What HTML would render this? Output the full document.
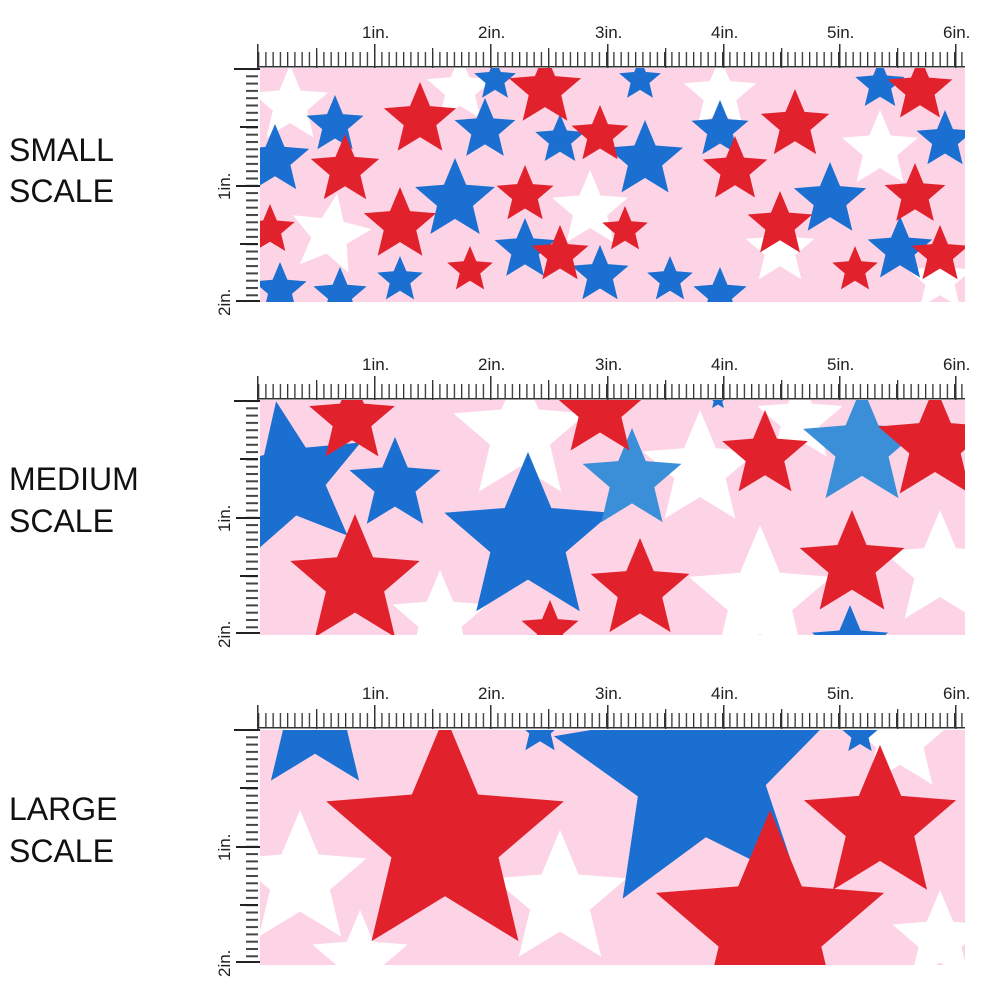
<!DOCTYPE html>
<html><head><meta charset="utf-8"><style>
body{margin:0;background:#fff;width:1000px;height:1000px;overflow:hidden;font-family:"Liberation Sans",sans-serif}
svg{position:absolute;left:0;top:0}
</style></head><body>
<svg width="1000" height="1000" viewBox="0 0 1000 1000" xmlns="http://www.w3.org/2000/svg" font-family="Liberation Sans, sans-serif">
<defs>
<polygon id="s" points="0,-1 .265,-.364 .951,-.309 .428,.139 .588,.809 0,.45 -.588,.809 -.428,.139 -.951,-.309 -.265,-.364"/>
<pattern id="ht" x="258" y="0" width="7.25" height="1000" patternUnits="userSpaceOnUse"><rect x="0" y="0" width="1.3" height="1000" fill="#333"/></pattern>
<pattern id="vt" x="0" y="68" width="1000" height="7.3" patternUnits="userSpaceOnUse"><rect x="0" y="0" width="1000" height="2" fill="#444"/></pattern>
<clipPath id="c1"><rect x="260" y="68" width="705" height="234"/></clipPath>
<clipPath id="c2"><rect x="260" y="400" width="705" height="235"/></clipPath>
<clipPath id="c3"><rect x="260" y="730" width="705" height="235"/></clipPath>
<g id="ruler">
<rect x="258" y="52" width="707" height="15" fill="url(#ht)"/>
<rect x="258" y="66" width="707" height="1.5" fill="#333"/>
<rect x="257" y="44" width="1.5" height="24" fill="#333"/>
<rect x="374" y="44" width="1.5" height="24" fill="#333"/>
<rect x="490" y="44" width="1.5" height="24" fill="#333"/>
<rect x="607" y="44" width="1.5" height="24" fill="#333"/>
<rect x="723" y="44" width="1.5" height="24" fill="#333"/>
<rect x="839" y="44" width="1.5" height="24" fill="#333"/>
<rect x="955" y="44" width="1.5" height="24" fill="#333"/>
<rect x="316" y="48" width="1.3" height="20" fill="#333"/>
<rect x="432" y="48" width="1.3" height="20" fill="#333"/>
<rect x="548" y="48" width="1.3" height="20" fill="#333"/>
<rect x="665" y="48" width="1.3" height="20" fill="#333"/>
<rect x="781" y="48" width="1.3" height="20" fill="#333"/>
<rect x="897" y="48" width="1.3" height="20" fill="#333"/>
<rect x="246" y="68" width="12" height="234" fill="url(#vt)"/>
<rect x="234" y="68" width="26" height="2" fill="#222"/>
<rect x="236" y="185" width="24" height="2" fill="#222"/>
<rect x="236" y="300" width="24" height="2" fill="#222"/>
<rect x="240" y="126" width="18" height="2" fill="#222"/>
<rect x="240" y="243" width="18" height="2" fill="#222"/>
<g font-size="17" fill="#222">
<text x="362" y="38">1in.</text><text x="478" y="38">2in.</text><text x="595" y="38">3in.</text>
<text x="711" y="38">4in.</text><text x="827" y="38">5in.</text><text x="943" y="38">6in.</text>
<text transform="translate(230,200) rotate(-90)">1in.</text>
<text transform="translate(230,316) rotate(-90)">2in.</text>
</g>
</g>
</defs>

<g font-size="32" fill="#111">
<text x="9" y="161">SMALL</text><text x="9" y="202">SCALE</text>
<text x="9" y="490">MEDIUM</text><text x="9" y="532">SCALE</text>
<text x="9" y="820">LARGE</text><text x="9" y="862">SCALE</text>
</g>

<use href="#ruler"/>
<use href="#ruler" y="332"/>
<use href="#ruler" y="661"/>

<g clip-path="url(#c1)">
<rect x="260" y="68" width="705" height="234" fill="#fcd4e6"/>
<g fill="#fff">
<use href="#s" transform="translate(290,105) scale(40)"/><use href="#s" transform="translate(330,235) scale(42) rotate(10)"/>
<use href="#s" transform="translate(590,210) scale(40)"/><use href="#s" transform="translate(720,95) scale(38)"/>
<use href="#s" transform="translate(880,150) scale(40)"/><use href="#s" transform="translate(460,90) scale(35)"/>
<use href="#s" transform="translate(780,250) scale(36)"/><use href="#s" transform="translate(940,280) scale(34)"/>
</g>
<g fill="#1b6fd0">
<use href="#s" transform="translate(335,125) scale(30)"/><use href="#s" transform="translate(485,130) scale(32)"/>
<use href="#s" transform="translate(455,200) scale(42)"/><use href="#s" transform="translate(560,140) scale(26)"/>
<use href="#s" transform="translate(645,160) scale(40)"/><use href="#s" transform="translate(720,130) scale(30)"/>
<use href="#s" transform="translate(830,200) scale(38)"/><use href="#s" transform="translate(880,85) scale(26)"/>
<use href="#s" transform="translate(945,140) scale(30)"/><use href="#s" transform="translate(275,160) scale(36)"/>
<use href="#s" transform="translate(280,290) scale(28)"/><use href="#s" transform="translate(340,295) scale(28)"/>
<use href="#s" transform="translate(600,275) scale(30)"/><use href="#s" transform="translate(525,250) scale(32)"/>
<use href="#s" transform="translate(670,280) scale(24)"/><use href="#s" transform="translate(720,295) scale(28)"/>
<use href="#s" transform="translate(400,280) scale(24)"/><use href="#s" transform="translate(640,80) scale(22)"/>
<use href="#s" transform="translate(900,250) scale(34)"/><use href="#s" transform="translate(495,80) scale(22)"/>
</g>
<g fill="#e1222d">
<use href="#s" transform="translate(420,120) scale(38)"/><use href="#s" transform="translate(345,170) scale(36)"/>
<use href="#s" transform="translate(400,225) scale(38)"/><use href="#s" transform="translate(545,90) scale(38)"/>
<use href="#s" transform="translate(600,135) scale(30)"/><use href="#s" transform="translate(525,195) scale(30)"/>
<use href="#s" transform="translate(560,255) scale(30)"/><use href="#s" transform="translate(625,230) scale(24)"/>
<use href="#s" transform="translate(735,170) scale(34)"/><use href="#s" transform="translate(795,125) scale(36)"/>
<use href="#s" transform="translate(780,225) scale(34)"/><use href="#s" transform="translate(920,90) scale(34)"/>
<use href="#s" transform="translate(915,195) scale(32)"/><use href="#s" transform="translate(940,255) scale(30)"/>
<use href="#s" transform="translate(470,270) scale(24)"/><use href="#s" transform="translate(855,270) scale(24)"/>
<use href="#s" transform="translate(270,230) scale(26)"/>
</g>
</g>

<g clip-path="url(#c2)">
<rect x="260" y="400" width="705" height="235" fill="#fcd4e6"/>
<g fill="#fff">
<use href="#s" transform="translate(520,435) scale(70)"/><use href="#s" transform="translate(700,470) scale(60)"/>
<use href="#s" transform="translate(760,600) scale(75)"/><use href="#s" transform="translate(940,570) scale(60)"/>
<use href="#s" transform="translate(440,620) scale(50)"/><use href="#s" transform="translate(800,420) scale(45)"/>
</g>
<g fill="#1b6fd0">
<use href="#s" transform="translate(290,480) scale(80) rotate(-10)"/><use href="#s" transform="translate(395,485) scale(48)"/>
<use href="#s" transform="translate(528,540) scale(88)"/><use href="#s" transform="translate(850,645) scale(40)"/>
<use href="#s" transform="translate(718,400) scale(10)"/>
</g>
<g fill="#3a8fd8">
<use href="#s" transform="translate(632,480) scale(52)"/><use href="#s" transform="translate(862,448) scale(62)"/>
</g>
<g fill="#e1222d">
<use href="#s" transform="translate(352,420) scale(45)"/><use href="#s" transform="translate(355,582) scale(68)"/>
<use href="#s" transform="translate(600,410) scale(50)"/><use href="#s" transform="translate(765,455) scale(45)"/>
<use href="#s" transform="translate(935,445) scale(60)"/><use href="#s" transform="translate(852,565) scale(55)"/>
<use href="#s" transform="translate(640,590) scale(52)"/><use href="#s" transform="translate(550,630) scale(30)"/>
</g>
</g>

<g clip-path="url(#c3)">
<rect x="260" y="730" width="705" height="235" fill="#fcd4e6"/>
<g fill="#fff">
<use href="#s" transform="translate(300,880) scale(70)"/><use href="#s" transform="translate(560,900) scale(70)"/>
<use href="#s" transform="translate(900,740) scale(55)"/><use href="#s" transform="translate(360,960) scale(50)"/>
<use href="#s" transform="translate(940,940) scale(50)"/>
</g>
<g fill="#1b6fd0">
<use href="#s" transform="translate(315,720) scale(75)"/><use href="#s" transform="translate(700,770) scale(150) rotate(-5)"/>
<use href="#s" transform="translate(540,730) scale(25)"/><use href="#s" transform="translate(860,735) scale(20)"/>
</g>
<g fill="#e1222d">
<use href="#s" transform="translate(445,840) scale(125)"/><use href="#s" transform="translate(770,930) scale(120)"/>
<use href="#s" transform="translate(880,825) scale(80)"/>
</g>
</g>
</svg>
</body></html>
